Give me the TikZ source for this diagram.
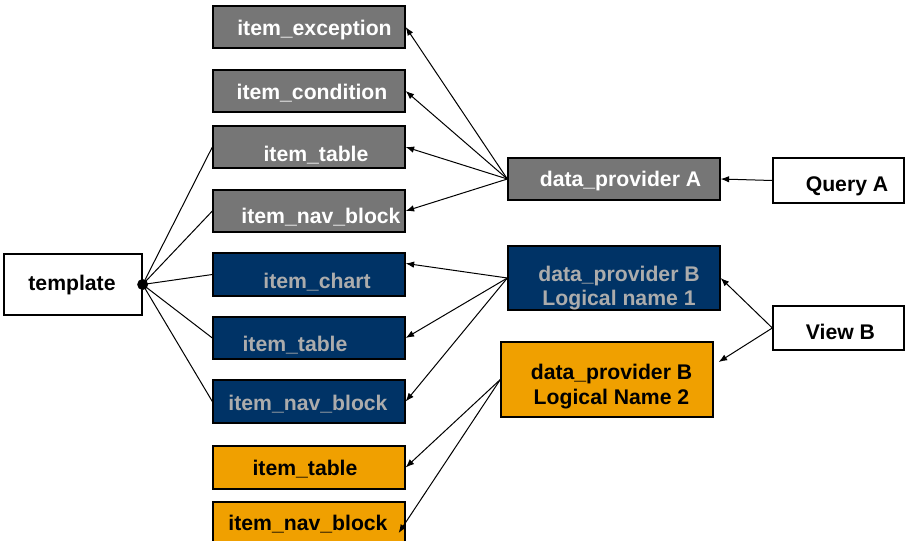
\documentclass[tikz,border=0pt]{standalone}
\usepackage{fontspec}
\setmainfont{Liberation Sans}
\usetikzlibrary{arrows.meta,calc}
\definecolor{boxgrey}{RGB}{118,118,118}
\definecolor{boxblue}{RGB}{0,51,102}
\definecolor{boxorange}{RGB}{240,160,0}
\definecolor{txtgrey}{RGB}{172,172,172}
\newcommand\boxtxt[3]{\raisebox{#2pt}[0pt][0pt]{\makebox[0pt][c]{\hspace{#1pt}#3}}}
\newcommand\twolines[2]{\begin{tabular}[b]{@{}c@{}}#1\\#2\end{tabular}}
\begin{document}
\begin{tikzpicture}[x=1pt,y=-1pt,
  every node/.style={font=\fontsize{21.2}{25}\selectfont\bfseries},
  basebox/.style={draw=black,line width=1.3pt,inner sep=0pt,rectangle},
  greybox/.style={basebox,fill=boxgrey,text=white,minimum width=192pt,minimum height=42pt},
  bluebox/.style={basebox,fill=boxblue,text=txtgrey,minimum width=192pt,minimum height=43pt},
  orangebox/.style={basebox,fill=boxorange,text=black,minimum width=192pt,minimum height=43pt},
  whitebox/.style={basebox,fill=white,text=black},
  link/.style={line width=1pt,draw=black},
  arrow/.style={link,-{Latex[length=8.5pt,width=6.5pt]}}]
\useasboundingbox[fill=white] (0,0) rectangle (911,541);

% left column
\node[whitebox,minimum width=138pt,minimum height=61pt] (tmpl) at (73,284.5) {\boxtxt{-2}{-5.5}{template}};

\node[greybox] (e1) at (309,27) {\boxtxt{11}{-8}{item\_exception}};
\node[greybox] (e2) at (309,91) {\boxtxt{6}{-8.3}{item\_condition}};
\node[greybox] (e3) at (309,147) {\boxtxt{14}{-14.7}{item\_table}};
\node[greybox] (e4) at (309,211) {\boxtxt{24}{-12.3}{item\_nav\_block}};

\node[bluebox] (b1) at (309,274.5) {\boxtxt{16}{-13.8}{item\_chart}};
\node[bluebox,minimum height=42pt] (b2) at (309,338) {\boxtxt{-28}{-13.7}{item\_table}};
\node[bluebox] (b3) at (309,401.5) {\boxtxt{-2}{-8.5}{item\_nav\_block}};

\node[orangebox] (o1) at (309,467.5) {\boxtxt{-8}{-7.5}{item\_table}};
\node[orangebox] (o2) at (309,523.5) {\boxtxt{-2}{-7}{item\_nav\_block}};

% providers
\node[greybox,minimum width=212pt] (dpA) at (614,179) {\boxtxt{13}{-7.7}{data\_provider A}};
\node[bluebox,minimum width=212pt,minimum height=64pt] (dpB1) at (614,278)
  {\boxtxt{10}{-27}{\fontsize{21.2}{23.5}\selectfont\twolines{data\_provider B}{Logical name 1}}};
\node[orangebox,minimum width=212pt,minimum height=75pt] (dpB2) at (607,379.5)
  {\boxtxt{9}{-24.5}{\twolines{data\_provider B}{Logical Name 2}}};

% sources
\node[whitebox,minimum width=131pt,minimum height=45pt] (qA) at (838.5,180.5) {\boxtxt{17}{-11}{Query A}};
\node[whitebox,minimum width=131pt,minimum height=44pt] (vB) at (838.5,328) {\boxtxt{4}{-11.3}{View B}};

% template fan-out
\node[circle,fill=black,inner sep=0pt,minimum width=9pt,minimum height=11pt] (dot) at (tmpl.east) {};
\foreach \t in {e3,e4,b1,b2,b3} \draw[link] (dot.center) -- (\t.west);

% data provider A
\foreach \t in {e1,e2,e3,e4} \draw[arrow] (dpA.west) -- (\t.east);
\draw[arrow] (qA.west) -- (dpA.east);

% data provider B, logical name 1
\coordinate (b1in) at ($(b1.north east)!0.25!(b1.south east)$);
\draw[arrow] (dpB1.west) -- (b1in);
\draw[arrow] (dpB1.west) -- (b2.east);
\draw[arrow] (dpB1.west) -- (b3.east);

% data provider B, logical name 2
\coordinate (o2in) at ($(o2.east)+(-7,9.5)$);
\draw[arrow] (dpB2.west) -- (o1.east);
\draw[arrow] (dpB2.west) -- (o2in);

% view B
\coordinate (dpB2in) at ($(dpB2.east)+(5,-17.5)$);
\draw[arrow] (vB.west) -- (dpB1.east);
\draw[arrow] (vB.west) -- (dpB2in);
\end{tikzpicture}
\end{document}
